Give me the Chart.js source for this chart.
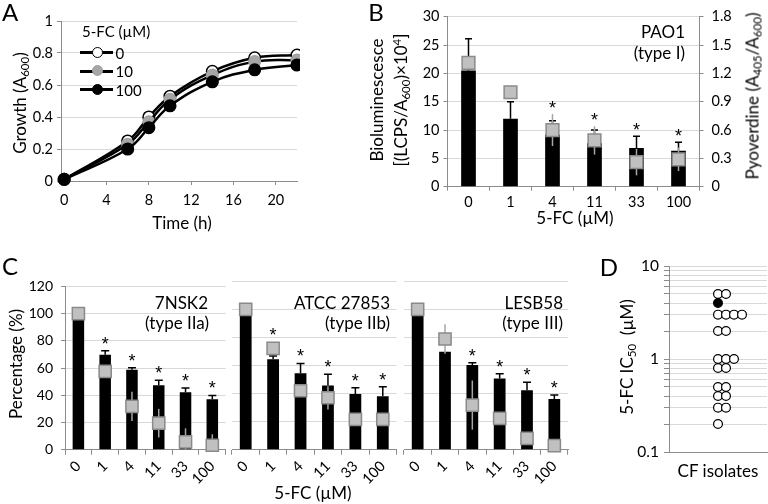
<!DOCTYPE html>
<html><head><meta charset="utf-8">
<script src="https://cdn.jsdelivr.net/npm/chart.js@4.4.1/dist/chart.umd.min.js"></script>
<style>
body{margin:0;background:#fff;width:768px;height:504px;overflow:hidden;position:relative;font-family:Lato,'Open Sans',sans-serif;color:#000}
canvas{position:absolute}
.t{position:absolute;white-space:nowrap;line-height:1}
sub{font-size:68%;vertical-align:-0.3em;line-height:0}
sup{font-size:68%;vertical-align:0.45em;line-height:0}
</style></head><body>
<script>
// ---------- Panel A data ----------
const timeH = [0, 6, 8, 10, 14, 18, 22];
const growth0 = [0.01, 0.25, 0.40, 0.53, 0.685, 0.77, 0.787];
const growth10 = [0.01, 0.23, 0.37, 0.51, 0.662, 0.746, 0.756];
const growth100 = [0.01, 0.20, 0.333, 0.47, 0.62, 0.695, 0.725];
const timeTicks = [0, 4, 8, 12, 16, 20];
const growthTicks = [0, 0.2, 0.4, 0.6, 0.8, 1];
const growthLabels = ['0', '10', '100'];

// ---------- Panel B data ----------
const fcLabels = ['0', '1', '4', '11', '33', '100'];
const biolum = [20.5, 12.0, 9.15, 7.65, 6.85, 6.35];
const biolumErr = [5.6, 3.0, 2.5, 2.35, 2.05, 1.5];
const pyov = [1.31, 1.0, 0.60, 0.49, 0.26, 0.29];
const pyovErr = [0.04, 0.04, 0.17, 0.15, 0.14, 0.125];
const pyovStars = [false, false, true, true, true, true];
const biolumTicks = [0, 5, 10, 15, 20, 25, 30];
const pyovTicks = [0, 0.3, 0.6, 0.9, 1.2, 1.5, 1.8];

// ---------- Panel C data ----------
const pctTicks = [0, 20, 40, 60, 80, 100, 120];
const c1Bars = [100, 69.8, 58.7, 47.3, 42.3, 37.1];
const c1BarErr = [0, 2.9, 1.6, 3.8, 3.1, 2.8];
const c1Sq = [100, 57.5, 31.8, 19.5, 5.7, 3.3];
const c1SqErr = [0, 3, 10.7, 10.5, 10, 8];
const c1Stars = [false, true, true, true, true, true];
const c2Bars = [100, 64.4, 54.4, 45.8, 39.7, 38.0];
const c2BarErr = [0, 2.3, 7.1, 7.9, 4.5, 6.9];
const c2Sq = [100, 72.2, 42, 37, 21.6, 21.6];
const c2SqErr = [0, 3, 4, 8.3, 3, 3];
const c2Stars = [false, true, true, true, true, true];
const c3Bars = [100, 69.8, 60.3, 50.8, 42.3, 36.1];
const c3BarErr = [0, 0, 1.7, 3.4, 5.7, 2.9];
const c3Sq = [100, 78.9, 31.8, 22.3, 8.1, 2.9];
const c3SqErr = [0, 10.5, 17.5, 4, 4, 2];
const c3Stars = [false, false, true, true, true, true];

// ---------- Panel D data ----------
const isolateIC50 = [5, 5, 3, 3, 3, 3, 2, 2, 1, 1, 1, 0.8, 0.8, 0.5, 0.5, 0.4, 0.4, 0.3, 0.3, 0.2];
const refIC50 = [4];
const logTicks = [0.1, 0.2, 0.3, 0.4, 0.5, 0.6, 0.7, 0.8, 0.9, 1, 2, 3, 4, 5, 6, 7, 8, 9, 10];
const logLabelled = [0.1, 1, 10];

// ---------- helpers ----------
Chart.defaults.font.family = 'Lato, sans-serif';
Chart.defaults.font.size = 14;
Chart.defaults.color = '#000';
Chart.defaults.animation = false;
const AX = '#8c8c8c', GR = '#d9d9d9';

function addCanvas(x, y, w, h) {
  const c = document.createElement('canvas');
  c.width = w; c.height = h;
  c.style.left = x + 'px'; c.style.top = y + 'px';
  c.style.width = w + 'px'; c.style.height = h + 'px';
  document.body.appendChild(c);
  return c;
}
function addText(html, x, y, o = {}) {
  const d = document.createElement('div');
  d.className = 't';
  d.innerHTML = html;
  d.style.fontSize = (o.size || 16) + 'px';
  d.style.left = x + 'px'; d.style.top = y + 'px';
  const tx = o.align === 'right' ? '-100%' : o.align === 'left' ? '0' : '-50%';
  d.style.transform = `translate(${tx},-50%)` + (o.rotate ? ` rotate(${o.rotate}deg)` : '');
  document.body.appendChild(d);
  return d;
}
const fixedTicks = arr => s => { s.ticks = arr.map(v => ({ value: v })); };

function errPlugin(cfg) {
  return {
    id: 'err' + Math.random().toString(36).slice(2),
    beforeDatasetDraw(chart, args) {
      if (args.index !== 1) return;
      const ctx = chart.ctx;
      const bm = chart.getDatasetMeta(0), sm = chart.getDatasetMeta(1);
      const yb = chart.scales[bm.yAxisID], ys = chart.scales[sm.yAxisID];
      const bd = chart.data.datasets[0].data, sd = chart.data.datasets[1].data;
      ctx.save();
      ctx.lineWidth = 1.5; ctx.strokeStyle = '#000';
      bm.data.forEach((el, i) => {
        const e = cfg.barErr[i]; if (!e) return;
        const y0 = yb.getPixelForValue(bd[i]), y1 = yb.getPixelForValue(bd[i] + e);
        ctx.beginPath();
        ctx.moveTo(el.x, y0); ctx.lineTo(el.x, y1);
        ctx.moveTo(el.x - cfg.cap / 2, y1); ctx.lineTo(el.x + cfg.cap / 2, y1);
        ctx.stroke();
      });
      ctx.strokeStyle = '#a6a6a6';
      sm.data.forEach((el, i) => {
        const e = cfg.sqErr[i]; if (!e) return;
        const lo = Math.max(ys.min, sd[i] - e);
        ctx.beginPath();
        ctx.moveTo(el.x, ys.getPixelForValue(lo)); ctx.lineTo(el.x, ys.getPixelForValue(sd[i] + e));
        ctx.stroke();
      });
      ctx.restore();
    },
    afterDatasetsDraw(chart) {
      const ctx = chart.ctx;
      const bm = chart.getDatasetMeta(0), sm = chart.getDatasetMeta(1);
      const yb = chart.scales[bm.yAxisID], ys = chart.scales[sm.yAxisID];
      const bd = chart.data.datasets[0].data, sd = chart.data.datasets[1].data;
      ctx.save();
      ctx.font = '18px "Liberation Sans", Arial, sans-serif';
      ctx.fillStyle = '#000'; ctx.textAlign = 'center'; ctx.textBaseline = 'alphabetic';
      bm.data.forEach((el, i) => {
        if (!cfg.stars[i]) return;
        const tops = [
          yb.getPixelForValue(bd[i] + (cfg.barErr[i] || 0)),
          ys.getPixelForValue(sd[i] + (cfg.sqErr[i] || 0)),
          sm.data[i].y - 6.5
        ];
        ctx.fillText('*', el.x, Math.min(...tops) - cfg.starOff);
      });
      ctx.restore();
    }
  };
}

// ---------- Panel A ----------
{
  const c = addCanvas(0, 0, 300, 240);
  const series = [growth0, growth10, growth100];
  const fills = ['#ffffff', '#a6a6a6', '#000000'];
  const borders = ['#000000', '#a0a0a0', '#000000'];
  new Chart(c, {
    type: 'line',
    data: {
      datasets: series.map((s, k) => ({
        label: growthLabels[k],
        data: timeH.map((t, i) => ({ x: t, y: s[i] })),
        borderColor: '#000', borderWidth: 2.5, tension: 0.4,
        pointRadius: 5.8, pointBorderWidth: 1.5,
        pointBackgroundColor: fills[k], pointBorderColor: borders[k],
        order: 3 - k, clip: false
      }))
    },
    options: {
      responsive: false, animation: false,
      layout: { padding: { top: 21, right: 3, left: 0, bottom: 0 }, autoPadding: false },
      plugins: { legend: { display: false }, tooltip: { enabled: false } },
      scales: {
        x: {
          type: 'linear', min: -0.3, max: 22, bounds: 'data',
          afterBuildTicks: fixedTicks(timeTicks), afterFit: s => { s.height = 59; },
          grid: { drawOnChartArea: false, tickLength: 4, tickColor: AX },
          border: { color: AX },
          ticks: { padding: 7, color: '#000', font: { size: 14.5 } }
        },
        y: {
          min: 0, max: 1, bounds: 'data',
          afterBuildTicks: fixedTicks(growthTicks), afterFit: s => { s.width = 61; },
          grid: { color: GR, tickColor: AX, tickLength: 4 },
          border: { color: AX },
          ticks: { padding: 4, color: '#000', font: { size: 14.5 }, callback: v => String(v) }
        }
      }
    }
  });
  // legend (HTML)
  addText('5-FC (µM)', 82, 31, { size: 15, align: 'left' });
  const ly = [52.5, 71, 89.5];
  growthLabels.forEach((lab, k) => {
    const ln = document.createElement('div');
    ln.style.cssText = `position:absolute;left:80px;top:${ly[k] - 1.5}px;width:33px;height:3px;background:#000`;
    document.body.appendChild(ln);
    const ci = document.createElement('div');
    ci.style.cssText = `position:absolute;left:${97.5 - 6}px;top:${ly[k] - 6}px;width:9px;height:9px;border-radius:50%;background:${fills[k]};border:1.5px solid ${borders[k]}`;
    document.body.appendChild(ci);
    addText(lab, 115.5, ly[k], { size: 15, align: 'left' });
  });
  addText('Growth (A<sub>600</sub>)', 19, 103, { size: 17, rotate: -90 });
  addText('Time (h)', 182, 222, { size: 17 });
  addText('A', 10, 12, { size: 24 });
}

// ---------- Panel B ----------
{
  const c = addCanvas(384, 0, 384, 240);
  new Chart(c, {
    type: 'bar',
    data: {
      labels: fcLabels,
      datasets: [
        { type: 'bar', data: biolum, backgroundColor: '#000', barPercentage: 0.35, categoryPercentage: 1, yAxisID: 'y', order: 2 },
        { type: 'line', data: pyov, yAxisID: 'y1', showLine: false, pointStyle: 'rect', pointRadius: 9,
          pointBackgroundColor: '#c0c0c0', pointBorderColor: '#8a8a8a', pointBorderWidth: 1.5, order: 1, clip: false }
      ]
    },
    options: {
      responsive: false, animation: false,
      layout: { padding: { top: 8.3, right: 0, left: 0, bottom: 0 }, autoPadding: false },
      plugins: { legend: { display: false }, tooltip: { enabled: false } },
      scales: {
        x: {
          type: 'category', offset: true,
          grid: { offset: true, drawOnChartArea: false, tickLength: 4, tickColor: AX },
          border: { color: AX },
          ticks: { padding: 3, color: '#000', maxRotation: 0, autoSkip: false, font: { size: 14.5 } },
          afterFit: s => { s.height = 53.3; }
        },
        y: {
          position: 'left', min: 0, max: 30, bounds: 'data',
          afterBuildTicks: fixedTicks(biolumTicks), afterFit: s => { s.width = 63.5; },
          grid: { color: GR, tickColor: AX, tickLength: 4 },
          border: { color: AX },
          ticks: { padding: 4, color: '#000', font: { size: 14.5 } }
        },
        y1: {
          position: 'right', min: 0, max: 1.8, bounds: 'data',
          afterBuildTicks: fixedTicks(pyovTicks), afterFit: s => { s.width = 68.5; },
          grid: { drawOnChartArea: false, tickColor: AX, tickLength: 4 },
          border: { color: AX },
          ticks: { padding: 8, color: '#000', font: { size: 14.5 }, callback: v => v === 0 ? '0' : v.toFixed(1) }
        }
      }
    },
    plugins: [errPlugin({ barErr: biolumErr, sqErr: pyovErr, stars: pyovStars, cap: 7, starOff: 0 })]
  });
  addText('B', 376, 12, { size: 24 });
  addText('Bioluminescesce', 376, 100, { size: 17, rotate: -90 });
  addText('[(LCPS/A<sub>600</sub>)×10<sup>4</sup>]', 400, 100, { size: 17, rotate: -90 });
  addText('Pyoverdine (A<sub>405</sub>/A<sub>600</sub>)', 752, 96, { size: 17, rotate: -90 });
  addText('5-FC (µM)', 575, 217, { size: 17 });
  addText('PAO1', 685, 31, { size: 17, align: 'right' });
  addText('(type I)', 685, 52, { size: 17, align: 'right' });
}

// ---------- Panel C ----------
function makeC(x, w, padL, padR, showY, bars, barErr, sq, sqErr, stars) {
  const c = addCanvas(x, 270, w, 234);
  new Chart(c, {
    type: 'bar',
    data: {
      labels: fcLabels,
      datasets: [
        { type: 'bar', data: bars, backgroundColor: '#000', barPercentage: 0.43, categoryPercentage: 1, yAxisID: 'y', order: 2 },
        { type: 'line', data: sq, yAxisID: 'y', showLine: false, pointStyle: 'rect', pointRadius: 8.6,
          pointBackgroundColor: '#c0c0c0', pointBorderColor: '#8a8a8a', pointBorderWidth: 1.5, order: 1, clip: false }
      ]
    },
    options: {
      responsive: false, animation: false,
      layout: { padding: { top: 11.3, right: padR, left: padL, bottom: 0 }, autoPadding: false },
      plugins: { legend: { display: false }, tooltip: { enabled: false } },
      scales: {
        x: {
          type: 'category', offset: true,
          grid: { offset: true, drawOnChartArea: false, tickLength: 5, tickColor: AX },
          border: { color: AX },
          ticks: { padding: 3, color: '#000', minRotation: 45, maxRotation: 45, autoSkip: false, font: { size: 14.5 } },
          afterFit: s => { s.height = 54.3; }
        },
        y: {
          min: 0, max: 120, bounds: 'data',
          afterBuildTicks: fixedTicks(pctTicks), afterFit: s => { s.width = showY ? 65 : 0; },
          grid: { color: GR, tickColor: AX, tickLength: 4, drawTicks: showY },
          border: { display: showY, color: AX },
          ticks: { display: showY, padding: 8, color: '#000', font: { size: 14 } }
        }
      }
    },
    plugins: [errPlugin({ barErr, sqErr, stars, cap: 8, starOff: 1 })]
  });
}
makeC(0, 232, 0, 6.3, true, c1Bars, c1BarErr, c1Sq, c1SqErr, c1Stars);
makeC(228, 172, 4, 3.5, false, c2Bars, c2BarErr, c2Sq, c2SqErr, c2Stars);
makeC(400, 172, 4, 4, false, c3Bars, c3BarErr, c3Sq, c3SqErr, c3Stars);
addText('C', 10, 266, { size: 24 });
addText('Percentage (%)', 15, 364, { size: 17, rotate: -90 });
addText('5-FC (µM)', 313, 492, { size: 17 });
addText('7NSK2', 208, 302, { size: 17, align: 'right' });
addText('(type IIa)', 209, 322, { size: 17, align: 'right' });
addText('ATCC 27853', 390, 302, { size: 17, align: 'right' });
addText('(type IIb)', 390, 322, { size: 17, align: 'right' });
addText('LESB58', 563, 302, { size: 17, align: 'right' });
addText('(type III)', 563, 322, { size: 17, align: 'right' });

// ---------- Panel D ----------
{
  const swarm = vals => {
    const seen = {};
    return vals.map(v => { const k = String(v); seen[k] = (seen[k] || 0); return { x: seen[k]++, y: v }; });
  };
  const c = addCanvas(600, 250, 168, 254);
  new Chart(c, {
    type: 'scatter',
    data: {
      datasets: [
        { data: swarm(refIC50), pointRadius: 4.4, pointBorderWidth: 1.2, pointBackgroundColor: '#000', pointBorderColor: '#000', order: 0, clip: false },
        { data: swarm(isolateIC50), pointRadius: 4.4, pointBorderWidth: 1.2, pointBackgroundColor: '#fff', pointBorderColor: '#000', order: 1, clip: false }
      ]
    },
    options: {
      responsive: false, animation: false,
      layout: { padding: { top: 16, right: 1, left: 0, bottom: 0 }, autoPadding: false },
      plugins: { legend: { display: false }, tooltip: { enabled: false } },
      scales: {
        x: {
          type: 'linear', min: -6.125, max: 6.125,
          ticks: { display: false }, grid: { display: false },
          border: { color: AX },
          afterFit: s => { s.height = 52; }
        },
        y: {
          type: 'logarithmic', min: 0.1, max: 10,
          afterBuildTicks: fixedTicks(logTicks), afterFit: s => { s.width = 69; },
          grid: { color: GR, tickColor: AX, tickLength: 5 },
          border: { color: AX },
          ticks: { autoSkip: false, padding: 5, color: '#000', font: { size: 15.5 }, callback: v => logLabelled.includes(v) ? String(v) : '' }
        }
      }
    }
  });
  addText('D', 609, 267, { size: 24 });
  addText('5-FC IC<sub>50</sub>&nbsp; (µM)', 626, 357, { size: 17, rotate: -90 });
  addText('CF isolates', 718, 470, { size: 17 });
}
</script>
</body></html>
